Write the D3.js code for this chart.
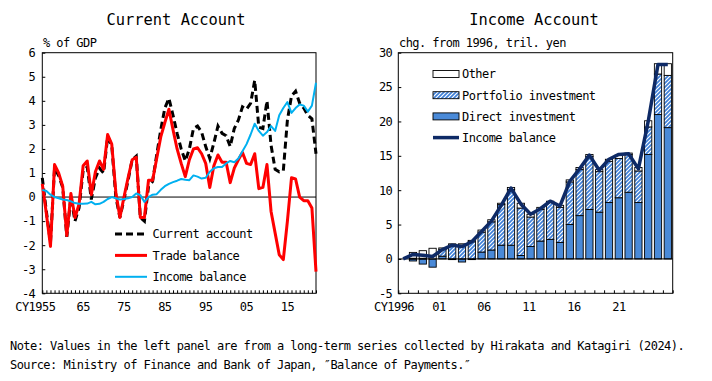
<!DOCTYPE html>
<html>
<head>
<meta charset="utf-8">
<script src="https://cdn.jsdelivr.net/npm/d3@7"></script>
<style>
  body { margin: 0; background: #fff; }
  svg text { font-family: "DejaVu Sans Mono", monospace; fill: #000; }
  .sm { font-size: 12px; letter-spacing: -0.55px; }
  .title { font-size: 15.4px; }
</style>
</head>
<body>
<div id="chart"></div>
<script>
// ---- left panel data: % of GDP, CY1955-2022 ----
const leftYears = d3.range(1955, 2023);
const currentAccount = [0.8, -0.6, -1.9, 1.2, 0.9, 0.4, -1.65, 0.0, -1.0, -0.45,
  1.1, 1.25, -0.1, 0.8, 1.2, 1.0, 2.5, 2.15, 0.0, -0.85,
  -0.1, 0.7, 1.55, 1.7, -0.85, -1.0, 0.45, 0.65, 1.75, 2.8,
  3.7, 4.1, 3.4, 2.65, 2.0, 1.5, 2.0, 2.85, 2.95, 2.7,
  2.1, 1.6, 2.25, 2.95, 2.65, 2.55, 2.1, 2.85, 3.2, 3.75,
  3.65, 3.9, 4.85, 2.9, 2.85, 4.0, 2.15, 1.15, 1.05, 1.1,
  3.2, 4.2, 4.4, 3.9, 3.7, 3.4, 3.25, 1.8];
const tradeBalance = [0.55, -0.7, -2.05, 1.35, 1.0, 0.45, -1.6, 0.15, -0.85, -0.3,
  1.3, 1.5, 0.1, 1.05, 1.5, 1.15, 2.6, 2.2, 0.2, -0.85,
  0.0, 0.8, 1.55, 1.65, -0.85, -0.85, 0.7, 0.7, 1.6, 2.5,
  3.1, 3.65, 2.8, 2.0, 1.4, 0.85, 1.55, 2.0, 2.05, 1.8,
  1.4, 0.4, 1.3, 1.75, 1.45, 1.45, 0.6, 1.2, 1.55, 1.85,
  1.4, 1.35, 1.8, 0.35, 0.4, 1.35, -0.6, -1.5, -2.4, -2.6,
  -1.0, 0.8, 0.75, 0.0, -0.15, -0.15, -0.45, -3.1];
const incomeBalanceGDP = [0.3, 0.25, 0.1, 0.0, -0.05, -0.1, -0.12, -0.18, -0.25, -0.28,
  -0.28, -0.27, -0.2, -0.3, -0.28, -0.2, -0.08, 0.0, -0.05, -0.1,
  -0.08, -0.05, 0.0, 0.15, 0.08, -0.2, 0.0, 0.1, 0.12, 0.3,
  0.45, 0.55, 0.62, 0.68, 0.75, 0.72, 0.7, 0.9, 0.85, 0.77,
  0.8, 1.05, 1.2, 1.25, 1.25, 1.4, 1.5, 1.45, 1.6, 1.9,
  2.2, 2.6, 3.05, 2.75, 2.55, 2.7, 2.95, 2.75, 3.4, 3.7,
  3.95, 3.5, 3.7, 3.85, 3.8, 3.55, 3.8, 4.75];
const leftTicks = [-4, -3, -2, -1, 0, 1, 2, 3, 4, 5, 6];
const leftLabelYears = [1955, 1965, 1975, 1985, 1995, 2005, 2015];
const leftLabels = ["CY1955", "65", "75", "85", "95", "05", "15"];

// ---- right panel data: change from 1996, tril. yen, CY1996-2023 ----
const rightYears = d3.range(1996, 2024);
const directInv = [0, -0.3, -0.75, -1.2, 0.4, -0.1, -0.45, -0.1, 1.0, 1.3,
  2.0, 2.0, 0.5, 1.8, 2.6, 2.85, 2.4, 5.0, 6.3, 7.2,
  6.8, 8.2, 8.9, 9.7, 8.2, 15.2, 21.0, 19.1];
const portfolioInv = [0, 0.1, 0.1, 0.0, 1.0, 2.0, 2.0, 2.5, 2.9, 4.1,
  5.9, 8.1, 6.9, 4.3, 4.6, 5.35, 5.1, 6.2, 6.7, 7.7,
  5.9, 6.0, 5.7, 5.5, 4.6, 4.0, 5.9, 7.6];
const otherInv = [0, 0.85, 1.1, 1.55, 0.2, 0.2, 0.2, 0.2, 0.3, 0.3,
  0.2, 0.3, 0.7, 0.4, 0.3, 0.2, 0.3, 0.3, 0.3, 0.3,
  0.3, 0.3, 0.5, 0.2, 0.5, 0.9, 1.5, 1.7];
const incomeBalance = [0, 0.65, 0.55, 0.35, 1.35, 2.0, 1.8, 2.5, 4.0, 5.5,
  7.8, 10.3, 8.0, 6.5, 7.3, 8.4, 7.7, 11.3, 13.1, 15.1,
  12.9, 14.5, 15.2, 15.3, 13.1, 20.0, 28.3, 28.3];
const rightTicks = [-5, 0, 5, 10, 15, 20, 25, 30];
const rightLabelYears = [1996, 2001, 2006, 2011, 2016, 2021];
const rightLabels = ["CY1996", "01", "06", "11", "16", "21"];

const W = 712, H = 381;
const svg = d3.select("#chart").append("svg").attr("width", W).attr("height", H);

// hatch pattern for portfolio investment
const defs = svg.append("defs");
const pat = defs.append("pattern").attr("id", "hatch")
  .attr("patternUnits", "userSpaceOnUse").attr("width", 4).attr("height", 4);
pat.append("rect").attr("width", 4).attr("height", 4).attr("fill", "#fff");
pat.append("path").attr("d", "M-1,1 l2,-2 M0,4 l4,-4 M3,5 l2,-2")
  .attr("stroke", "#3f80d8").attr("stroke-width", 1.7);

const plotTop = 52.7, plotBottom = 293.3;

// ================= LEFT PANEL =================
const L = {left: 42.3, right: 316};
const xL = d3.scaleLinear().domain([1955, 2022]).range([L.left, L.right]);
const yL = d3.scaleLinear().domain([-4, 6]).range([plotBottom, plotTop]);

svg.append("text").attr("class", "title").attr("x", 176).attr("y", 25)
  .attr("text-anchor", "middle").text("Current Account");
svg.append("text").attr("class", "sm").attr("x", 43).attr("y", 47).text("% of GDP");

const gL = svg.append("g");
gL.append("rect").attr("x", L.left).attr("y", plotTop)
  .attr("width", L.right - L.left).attr("height", plotBottom - plotTop)
  .attr("fill", "none").attr("stroke", "#000").attr("stroke-width", 1);

gL.append("g").attr("transform", `translate(${L.left},0)`)
  .call(d3.axisLeft(yL).tickValues(leftTicks).tickSize(-3).tickPadding(7).tickFormat(d => d))
  .call(g => g.select(".domain").remove())
  .call(g => g.selectAll("text").attr("class", "sm").attr("font-family", null).attr("font-size", null))
  .call(g => g.selectAll("line").attr("stroke", "#000"));

gL.append("g").attr("transform", `translate(0,${plotBottom})`)
  .call(d3.axisBottom(xL).tickValues(leftYears).tickSize(-3).tickFormat(""))
  .call(g => g.select(".domain").remove())
  .call(g => g.selectAll("line").attr("stroke", "#000"));

gL.selectAll(".xlab").data(leftLabelYears).join("text")
  .attr("class", "sm")
  .attr("x", (d, i) => xL(d) + (i === 0 ? -7 : 0))
  .attr("y", 310.5).attr("text-anchor", "middle")
  .text((d, i) => leftLabels[i]);

gL.append("line").attr("x1", L.left).attr("x2", L.right)
  .attr("y1", yL(0)).attr("y2", yL(0)).attr("stroke", "#000").attr("stroke-width", 1);

const lineL = vals => d3.line().x((d, i) => xL(leftYears[i])).y(d => yL(d))(vals);
gL.append("path").attr("d", lineL(currentAccount)).attr("fill", "none")
  .attr("stroke", "#000").attr("stroke-width", 3).attr("stroke-dasharray", "7,4");
gL.append("path").attr("d", lineL(tradeBalance)).attr("fill", "none")
  .attr("stroke", "#ff0000").attr("stroke-width", 3).attr("stroke-linejoin", "round");
gL.append("path").attr("d", lineL(incomeBalanceGDP)).attr("fill", "none")
  .attr("stroke", "#00b0f0").attr("stroke-width", 2).attr("stroke-linejoin", "round");

// left legend
const legL = [
  {name: "Current account", color: "#000", w: 3, dash: "7,4"},
  {name: "Trade balance", color: "#ff0000", w: 3, dash: null},
  {name: "Income balance", color: "#00b0f0", w: 2, dash: null}
];
legL.forEach((d, i) => {
  const y = 234 + i * 21.4;
  gL.append("line").attr("x1", 115).attr("x2", 147).attr("y1", y).attr("y2", y)
    .attr("stroke", d.color).attr("stroke-width", d.w).attr("stroke-dasharray", d.dash);
  gL.append("text").attr("class", "sm").attr("x", 152.5).attr("y", y).attr("dy", "0.36em").text(d.name);
});

// ================= RIGHT PANEL =================
const R = {left: 398.3, right: 672.7};
const xR = d3.scaleBand().domain(rightYears).range([R.left, R.right]).paddingInner(0.26).paddingOuter(0.13);
const xEdge = d3.scaleLinear().domain([0, rightYears.length]).range([R.left, R.right]);
const xLab = d3.scaleLinear().domain([1996, 2021]).range([394, 619]);
const yR = d3.scaleLinear().domain([-5, 30]).range([plotBottom, plotTop]);

svg.append("text").attr("class", "title").attr("x", 534).attr("y", 25)
  .attr("text-anchor", "middle").text("Income Account");
svg.append("text").attr("class", "sm").attr("x", 399).attr("y", 47).text("chg. from 1996, tril. yen");

const gR = svg.append("g");
gR.append("rect").attr("x", R.left).attr("y", plotTop)
  .attr("width", R.right - R.left).attr("height", plotBottom - plotTop)
  .attr("fill", "none").attr("stroke", "#000").attr("stroke-width", 1);

gR.append("g").attr("transform", `translate(${R.left},0)`)
  .call(d3.axisLeft(yR).tickValues(rightTicks).tickSize(-3).tickPadding(6).tickFormat(d => d))
  .call(g => g.select(".domain").remove())
  .call(g => g.selectAll("text").attr("class", "sm").attr("font-family", null).attr("font-size", null))
  .call(g => g.selectAll("line").attr("stroke", "#000"));

gR.append("g").attr("transform", `translate(0,${plotBottom})`)
  .call(d3.axisBottom(xEdge).tickValues(d3.range(rightYears.length + 1)).tickSize(-3).tickFormat(""))
  .call(g => g.select(".domain").remove())
  .call(g => g.selectAll("line").attr("stroke", "#000"));

gR.selectAll(".xlab").data(rightLabelYears).join("text")
  .attr("class", "sm").attr("x", d => xLab(d)).attr("y", 310.5)
  .attr("text-anchor", "middle").text((d, i) => rightLabels[i]);

// stacked bars
const stacks = rightYears.map((yr, i) => {
  const d = directInv[i], p = portfolioInv[i], o = otherInv[i];
  const base = Math.max(d, 0);
  return {yr, segs: [
    {y0: Math.min(d, 0), y1: base, fill: "#4a8ad8"},
    {y0: base, y1: base + p, fill: "url(#hatch)"},
    {y0: base + p, y1: base + p + o, fill: "#fff"}
  ]};
});
const barG = gR.selectAll(".bar").data(stacks).join("g");
barG.selectAll("rect").data(d => d.segs.filter(s => s.y1 - s.y0 > 0.001).map(s => ({...s, yr: d.yr})))
  .join("rect")
  .attr("x", d => xR(d.yr)).attr("width", xR.bandwidth())
  .attr("y", d => yR(d.y1)).attr("height", d => yR(d.y0) - yR(d.y1))
  .attr("fill", d => d.fill).attr("stroke", "#000").attr("stroke-width", 0.9);

gR.append("line").attr("x1", R.left).attr("x2", R.right)
  .attr("y1", yR(0)).attr("y2", yR(0)).attr("stroke", "#000").attr("stroke-width", 1);

gR.append("path")
  .attr("d", d3.line().x((d, i) => xR(rightYears[i]) + xR.bandwidth() / 2).y(d => yR(d))(incomeBalance))
  .attr("fill", "none").attr("stroke", "#0e2a66").attr("stroke-width", 3.5)
  .attr("stroke-linejoin", "round");

// right legend
const legR = [
  {name: "Other", fill: "#fff"},
  {name: "Portfolio investment", fill: "url(#hatch)"},
  {name: "Direct investment", fill: "#4a8ad8"},
  {name: "Income balance", line: true}
];
legR.forEach((d, i) => {
  const y = 74 + i * 21.2;
  if (d.line) {
    gR.append("line").attr("x1", 433).attr("x2", 459).attr("y1", y).attr("y2", y)
      .attr("stroke", "#0e2a66").attr("stroke-width", 3.5);
  } else {
    gR.append("rect").attr("x", 433).attr("y", y - 3.5).attr("width", 26).attr("height", 7)
      .attr("fill", d.fill).attr("stroke", "#000").attr("stroke-width", 0.9);
  }
  gR.append("text").attr("class", "sm").attr("x", 462).attr("y", y).attr("dy", "0.36em").text(d.name);
});

// notes
svg.append("text").attr("class", "sm").attr("x", 10).attr("y", 349.5)
  .text("Note: Values in the left panel are from a long-term series collected by Hirakata and Katagiri (2024).");
svg.append("text").attr("class", "sm").attr("x", 10).attr("y", 368.5)
  .text("Source: Ministry of Finance and Bank of Japan, \u2033Balance of Payments.\u2033");
</script>
</body>
</html>
